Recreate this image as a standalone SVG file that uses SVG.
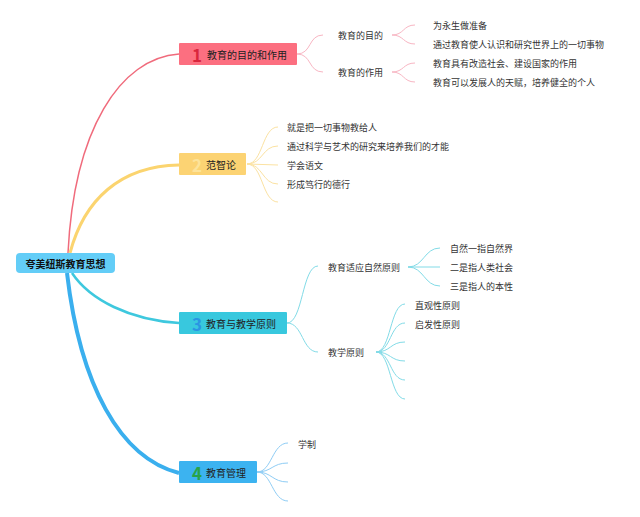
<svg xmlns="http://www.w3.org/2000/svg" width="640" height="517" viewBox="0 0 640 517">
<style>
text{font-family:"Noto Sans CJK SC","Noto Sans",sans-serif;fill:#333;dominant-baseline:central}
.leaf{font-size:9px}
.br{font-size:10px;fill:#222}
.num{font-size:17px;font-weight:bold;text-anchor:middle}
.root{font-size:10px;font-weight:bold;fill:#111;text-anchor:middle}
.l1{fill:none;stroke:#f8b6c3;stroke-width:1}
.l2{fill:none;stroke:#fbe2a2;stroke-width:1}
.l3{fill:none;stroke:#82dbe7;stroke-width:1}
.l4{fill:none;stroke:#8fcdf5;stroke-width:1}
</style>
<rect width="640" height="517" fill="#fff"/>
<g id="connectors">
<path d="M68,253 C74,130 120,58 179,54" fill="none" stroke="#f06b7c" stroke-width="1.5"/>
<path d="M70,253 C84,200 120,166 179,165" fill="none" stroke="#fbd46f" stroke-width="3"/>
<path d="M72,273 C90,300 130,320 179,323" fill="none" stroke="#3ec8de" stroke-width="2.5"/>
<path d="M67,273 C80,385 120,458 179,473" fill="none" stroke="#3aafee" stroke-width="4"/>
<path class="l1" d="M297,54 C312,54 308,35 323,35"/>
<path class="l1" d="M297,54 C312,54 308,72 323,72"/>
<path class="l1" d="M392,35 C404,35 403,25 415,25"/>
<path class="l1" d="M392,35 C404,35 403,44 415,44"/>
<path class="l1" d="M392,72 C404,72 403,63 415,63"/>
<path class="l1" d="M392,72 C404,72 403,82 415,82"/>
<path class="l2" d="M247,164 C263,164 262,127 278,127"/>
<path class="l2" d="M247,164 C263,164 262,146 278,146"/>
<path class="l2" d="M247,164 L278,165"/>
<path class="l2" d="M247,164 C263,164 262,184 278,184"/>
<path class="l2" d="M247,164 C263,164 262,202 278,202"/>
<path class="l3" d="M287,323 C303,323 302,266 318,266"/>
<path class="l3" d="M287,323 C303,323 302,352 318,352"/>
<path class="l3" d="M408,267 C424,267 424,248 440,248"/>
<path class="l3" d="M408,267 L440,267"/>
<path class="l3" d="M408,267 C424,267 424,286 440,286"/>
<path class="l3" d="M376,352 C391,352 390,304 405,304"/>
<path class="l3" d="M376,352 C391,352 390,323 405,323"/>
<path class="l3" d="M376,352 C391,352 390,342 405,342"/>
<path class="l3" d="M376,352 C391,352 390,361 405,361"/>
<path class="l3" d="M376,352 C391,352 390,380 405,380"/>
<path class="l3" d="M376,352 C391,352 390,399 405,399"/>
<path class="l4" d="M257,472 C272,472 272,443 288,443"/>
<path class="l4" d="M257,472 C272,472 272,463 288,463"/>
<path class="l4" d="M257,472 C272,472 272,482 288,482"/>
<path class="l4" d="M257,472 C272,472 272,501 288,501"/>
</g>
<g id="root">
<rect x="16" y="253" width="99" height="20" rx="4" fill="#63cdf7"/>
<text class="root" x="65.5" y="263">夸美纽斯教育思想</text>
</g>
<g id="b1">
<rect x="179" y="43" width="118" height="22" rx="1" fill="#fc6f80"/>
<text class="num" x="197" y="54" fill="#d9263d" style="fill:#d9263d">1</text>
<text class="br" x="207" y="54">教育的目的和作用</text>
</g>
<g id="b1-1"><text class="leaf" x="338" y="35">教育的目的</text></g>
<g id="b1-2"><text class="leaf" x="338" y="72">教育的作用</text></g>
<g id="b1-1-1"><text class="leaf" x="433" y="25">为永生做准备</text></g>
<g id="b1-1-2"><text class="leaf" x="433" y="44">通过教育使人认识和研究世界上的一切事物</text></g>
<g id="b1-2-1"><text class="leaf" x="433" y="63">教育具有改造社会、建设国家的作用</text></g>
<g id="b1-2-2"><text class="leaf" x="433" y="82">教育可以发展人的天赋，培养健全的个人</text></g>
<g id="b2">
<rect x="179" y="153" width="67" height="22" rx="1" fill="#fcd373"/>
<text class="num" x="197" y="164" style="fill:#fde39a">2</text>
<text class="br" x="206" y="164">范智论</text>
</g>
<g id="b2-1"><text class="leaf" x="287" y="127">就是把一切事物教给人</text></g>
<g id="b2-2"><text class="leaf" x="287" y="146">通过科学与艺术的研究来培养我们的才能</text></g>
<g id="b2-3"><text class="leaf" x="287" y="165">学会语文</text></g>
<g id="b2-4"><text class="leaf" x="287" y="184">形成笃行的德行</text></g>
<g id="b3">
<rect x="179" y="312" width="108" height="22" rx="1" fill="#38c8de"/>
<text class="num" x="197" y="323" style="fill:#2b95e3">3</text>
<text class="br" x="206" y="323">教育与教学原则</text>
</g>
<g id="b3-1"><text class="leaf" x="328" y="267">教育适应自然原则</text></g>
<g id="b3-1-1"><text class="leaf" x="450" y="248">自然一指自然界</text></g>
<g id="b3-1-2"><text class="leaf" x="450" y="267">二是指人类社会</text></g>
<g id="b3-1-3"><text class="leaf" x="450" y="286">三是指人的本性</text></g>
<g id="b3-2"><text class="leaf" x="328" y="352">教学原则</text></g>
<g id="b3-2-1"><text class="leaf" x="415" y="305">直观性原则</text></g>
<g id="b3-2-2"><text class="leaf" x="415" y="324">启发性原则</text></g>
<g id="b4">
<rect x="179" y="461" width="78" height="22" rx="1" fill="#3cb3f0"/>
<text class="num" x="197" y="472" style="fill:#28a347">4</text>
<text class="br" x="206" y="472">教育管理</text>
</g>
<g id="b4-1"><text class="leaf" x="298" y="444">学制</text></g>
</svg>
